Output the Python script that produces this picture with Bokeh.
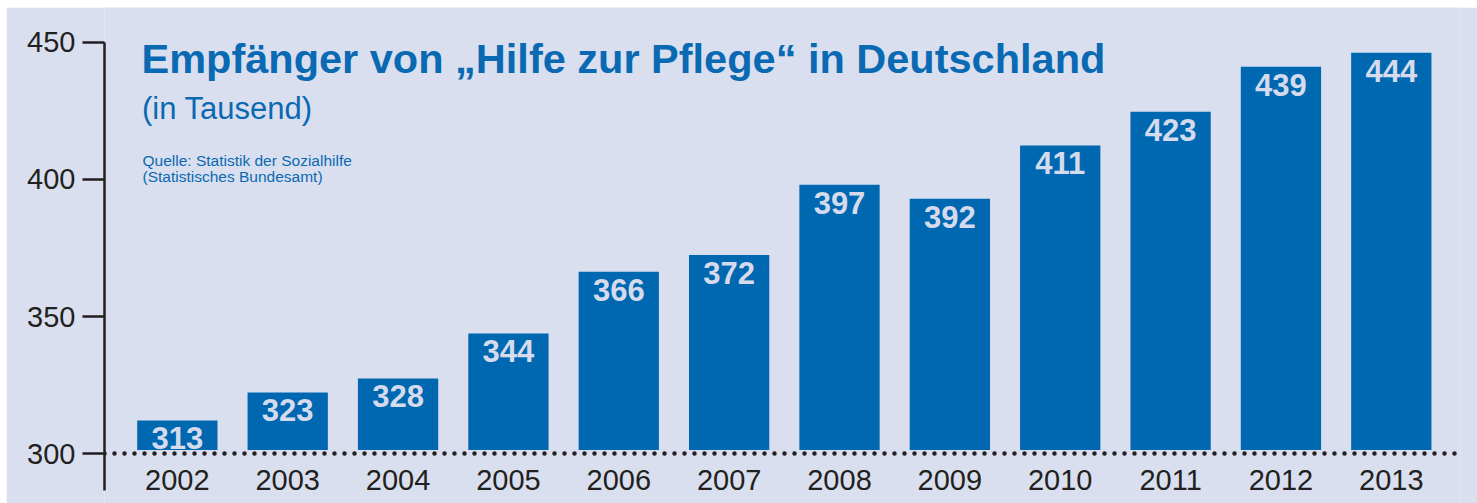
from bokeh.plotting import figure
from bokeh.models import Range1d, FixedTicker, Label, ColumnDataSource
from bokeh.core.properties import value
from bokeh.embed import file_html
from bokeh.resources import INLINE

# ---- data ----
years = [2002, 2003, 2004, 2005, 2006, 2007, 2008, 2009, 2010, 2011, 2012, 2013]
year_labels = [str(y) for y in years]
recipients = [313, 323, 328, 344, 366, 372, 397, 392, 411, 423, 439, 444]
bar_labels = [str(v) for v in recipients]
y_ticks = [300, 350, 400, 450]
baseline = 300

title_text = "Empfänger von „Hilfe zur Pflege“ in Deutschland"
subtitle_text = "(in Tausend)"
source_lines = ["Quelle: Statistik der Sozialhilfe", "(Statistisches Bundesamt)"]

# ---- style ----
BG = "#d9dfee"
BLUE = "#0068b1"
TEXT_BLUE = "#0a69b3"
LABEL = "#d5dbec"
DARK = "#231f20"

src = ColumnDataSource(dict(x=years, top=recipients, lab=bar_labels, ylab=year_labels,
                            base=[baseline] * len(years)))

p = figure(width=1471, height=496,
           x_range=Range1d(2001.34, 2013.627),
           y_range=Range1d(281.89, 462.65),
           x_axis_location=None, y_axis_location="left",
           output_backend="svg", toolbar_location=None,
           min_border_left=98, min_border_right=17,
           min_border_top=0, min_border_bottom=0,
           background_fill_color=BG, border_fill_color=BG,
           outline_line_color=None)
p.margin = (7, 0, 0, 6)
p.extra_y_ranges = {"bars": Range1d(283.43, 460.13)}
p.grid.visible = False

ax = p.yaxis[0]
ax.ticker = FixedTicker(ticks=y_ticks)
ax.bounds = (286.8, 450)
ax.axis_line_color = DARK
ax.axis_line_width = 2.5
ax.major_tick_line_color = DARK
ax.major_tick_line_width = 2.5
ax.major_tick_in = 0
ax.major_tick_out = 22
ax.minor_tick_line_color = None
ax.major_label_standoff = 7
ax.major_label_text_font = "Liberation Sans"
ax.major_label_text_font_size = "29px"
ax.major_label_text_color = DARK

# bars
p.vbar(x="x", top="top", bottom="base", width=0.7276, source=src,
       y_range_name="bars", fill_color=BLUE, line_color=None)

# baseline: background band then dotted line
p.hspan(y=[baseline], line_width=7, line_color=BG)
p.hspan(y=[baseline], line_width=4.5, line_color=DARK, line_dash="0 10", line_cap="round")

# value labels in bars
p.text(x="x", y="top", text="lab", source=src, y_range_name="bars",
       text_align="center", text_baseline="alphabetic", y_offset=17.8,
       text_font=value("Liberation Sans"), text_font_style="bold",
       text_font_size="31px", text_color=LABEL)

# year labels
p.text(x="x", y="base", text="ylab", source=src,
       text_align="center", text_baseline="alphabetic", y_offset=26.2,
       text_font=value("Liberation Sans"), text_font_size="29px", text_color=DARK)

# titles
p.add_layout(Label(x=37, y=444.6, x_units="screen", y_units="screen", text=title_text,
                   text_font="Liberation Sans", text_font_style="bold",
                   text_font_size="41.5px", text_color=TEXT_BLUE, text_baseline="alphabetic"))
p.add_layout(Label(x=37.5, y=395.2, x_units="screen", y_units="screen", text=subtitle_text,
                   text_font="Liberation Sans", text_font_size="31px",
                   text_color=TEXT_BLUE, text_baseline="alphabetic"))
p.add_layout(Label(x=38, y=342.9, x_units="screen", y_units="screen", text=source_lines[0],
                   text_font="Liberation Sans", text_font_size="15.5px",
                   text_color=TEXT_BLUE, text_baseline="alphabetic"))
p.add_layout(Label(x=38, y=326.9, x_units="screen", y_units="screen", text=source_lines[1],
                   text_font="Liberation Sans", text_font_size="15.5px",
                   text_color=TEXT_BLUE, text_baseline="alphabetic"))

open("out.html", "w").write(file_html(p, INLINE))
